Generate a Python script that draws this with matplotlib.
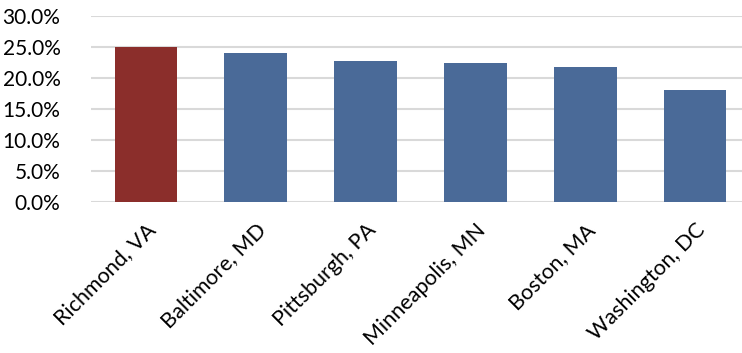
import matplotlib
matplotlib.use("Agg")
import matplotlib.pyplot as plt
from matplotlib.ticker import FuncFormatter, MultipleLocator

cities = ["Richmond, VA", "Baltimore, MD", "Pittsburgh, PA", "Minneapolis, MN", "Boston, MA", "Washington, DC"]
values = [25.0, 24.1, 22.7, 22.5, 21.8, 18.1]
highlight_color = "#8B2E2B"
base_color = "#4A6A98"
colors = [highlight_color] + [base_color] * (len(cities) - 1)

plt.rcParams['font.family'] = ['Lato', 'DejaVu Sans']

fig = plt.figure(figsize=(7.42, 3.53), dpi=100)
ax = fig.add_axes([91/742, 1 - 202/353, (750 - 91)/742, (202 - 16)/353])

x = list(range(len(cities)))
ax.bar(x, values, width=0.57, color=colors, zorder=3)
ax.set_xlim(-0.5, len(cities) - 0.5)
ax.set_ylim(0, 30)
ax.yaxis.set_major_locator(MultipleLocator(5))
ax.yaxis.set_major_formatter(FuncFormatter(lambda v, p: f"{v:.1f}%"))
ax.grid(axis='y', color='#d9d9d9', linewidth=1.5, zorder=0)
for s in ax.spines.values():
    s.set_visible(False)
ax.tick_params(axis='both', length=0, colors='black')
ax.tick_params(axis='y', pad=22, labelsize=15)
ax.set_xticks(x)
ax.set_xticklabels(cities, rotation=45, ha='right', rotation_mode='anchor')
ax.tick_params(axis='x', pad=13, labelsize=15.5)

fig.savefig("out.png", dpi=100)
